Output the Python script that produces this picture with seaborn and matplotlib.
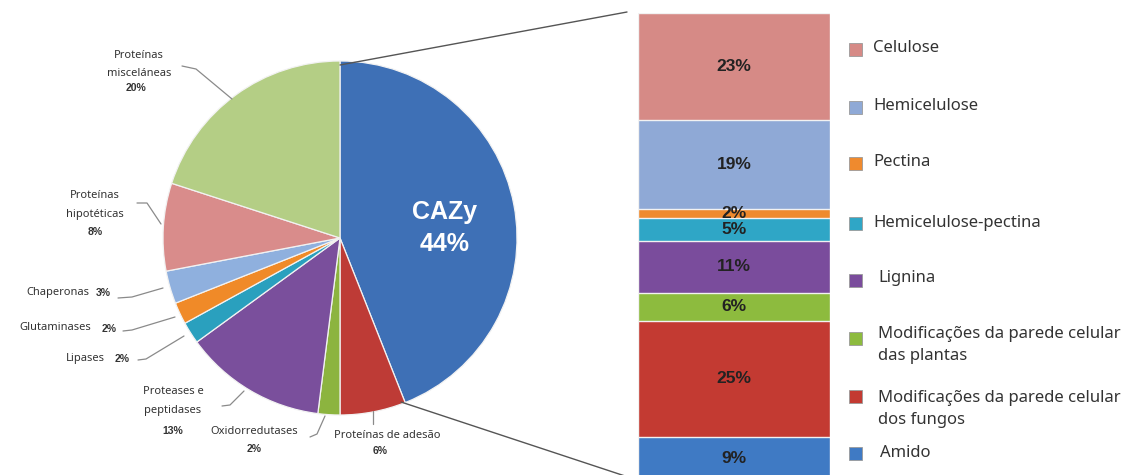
import matplotlib
matplotlib.use("Agg")
import matplotlib.pyplot as plt
import seaborn as sns
from matplotlib.patches import Rectangle

# ---------------- data ----------------
pie_labels = ["CAZy", "Proteínas de adesão", "Oxidorredutases", "Proteases e peptidases",
              "Lipases", "Glutaminases", "Chaperonas", "Proteínas hipotéticas",
              "Proteínas misceláneas"]
pie_values = [44, 6, 2, 13, 2, 2, 3, 8, 20]
pie_colors = ["#3E70B6", "#BE3B36", "#8CB43F", "#7A4F9C", "#2AA0BE",
              "#F08A28", "#8FB0DE", "#D98C8B", "#B4CE85"]

bar_labels = ["Amido", "Modificações da parede celular\ndos fungos",
              "Modificações da parede celular\ndas plantas", "Lignina",
              "Hemicelulose-pectina", "Pectina", "Hemicelulose", "Celulose"]
bar_values = [9, 25, 6, 11, 5, 2, 19, 23]
bar_colors = ["#3F7AC4", "#C33A32", "#8DBB3E", "#7A4C9C",
              "#2FA6C6", "#EF8A2E", "#8FA9D6", "#D68A86"]

sns.set_theme(style="white")
plt.rcParams['font.family'] = ['Noto Sans', 'DejaVu Sans']

W, H = 1131, 475
fig = plt.figure(figsize=(W / 100, H / 100), dpi=100)
fig.patch.set_facecolor("white")

def Y(py):
    return H - py

# ---------------- pie (pixel-coordinate axes) ----------------
ax0 = fig.add_axes([0, 0, 1, 1])
wedges, _ = ax0.pie(pie_values, colors=pie_colors, startangle=90, counterclock=False,
                    center=(340, Y(238)), radius=177,
                    wedgeprops=dict(edgecolor="#f2f2f2", linewidth=0.9))
ax0.set_xlim(0, W)
ax0.set_ylim(0, H)
ax0.set_aspect("auto")
ax0.axis("off")

lc = "#8a8a8a"
fs_lab = 8
fs_pct = 7.5
txtc = "#333333"

def lab(x, y, s, ha="center", bold=False, size=None):
    ax0.text(x, Y(y), s, ha=ha, va="center", color=txtc,
             fontsize=size or (fs_pct if bold else fs_lab),
             fontweight="bold" if bold else "normal",
             family=["Liberation Sans", "DejaVu Sans"] if bold else ["Noto Sans", "DejaVu Sans"])

def leader(pts, color=lc, lw=0.9):
    ax0.plot([p[0] for p in pts], [Y(p[1]) for p in pts], color=color, lw=lw,
             solid_capstyle="round")

# misceláneas
lab(139, 56, "Proteínas")
lab(139, 74, "misceláneas")
lab(136, 88, f"{pie_values[8]}%", bold=True)
leader([(182, 66), (196, 69), (232, 99)])
# hipotéticas
lab(95, 196, "Proteínas")
lab(95, 214, "hipotéticas")
lab(95, 232, f"{pie_values[7]}%", bold=True)
leader([(137, 203), (147, 203), (161, 224)])
# Chaperonas
lab(89, 292, "Chaperonas", ha="right")
lab(96, 293, f"{pie_values[6]}%", ha="left", bold=True)
leader([(118, 298), (132, 297), (163, 288)])
# Glutaminases
lab(91, 328, "Glutaminases", ha="right")
lab(102, 329, f"{pie_values[5]}%", ha="left", bold=True)
leader([(123, 331), (132, 330), (175, 317)])
# Lipases
lab(105, 358, "Lipases", ha="right")
lab(115, 359, f"{pie_values[4]}%", ha="left", bold=True)
leader([(138, 360), (146, 359), (184, 336)])
# Proteases
lab(173, 392, "Proteases e")
lab(173, 410, "peptidases")
lab(173, 431, f"{pie_values[3]}%", bold=True)
leader([(222, 406), (230, 405), (244, 391)])
# Oxidorredutases
lab(254, 432, "Oxidorredutases")
lab(254, 449, f"{pie_values[2]}%", bold=True)
leader([(310, 437), (317, 434), (325, 416)])
# adesão
lab(387, 435, "Proteínas de adesão")
lab(380, 451, f"{pie_values[1]}%", bold=True)
leader([(373, 424), (373, 411)])
# CAZy
ax0.text(445, Y(212), pie_labels[0], ha="center", va="center", color="white",
         fontsize=18, fontweight="bold", family=["Liberation Sans", "DejaVu Sans"])
ax0.text(445, Y(244), f"{pie_values[0]}%", ha="center", va="center", color="white",
         fontsize=18, fontweight="bold", family=["Liberation Sans", "DejaVu Sans"])

# connector lines
leader([(340, 65), (627, 12)], color="#555555", lw=1.0)
leader([(401, 402), (625, 476)], color="#555555", lw=1.0)

# ---------------- stacked bar ----------------
ax1 = fig.add_axes([638 / W, -4 / H, 192 / W, 466 / H])
cum = []
s = 0
for v in bar_values:
    s += v
    cum.append(s)
# overlay cumulative bars from tallest to shortest (seaborn stacked approach)
for i in range(len(bar_values) - 1, -1, -1):
    sns.barplot(x=[0], y=[cum[i]], color=bar_colors[i], saturation=1, width=1,
                edgecolor="#f2f2f2", linewidth=1.0, ax=ax1)
ax1.set_xlim(-0.5, 0.5)
ax1.set_ylim(0, 100)
ax1.axis("off")
for i, v in enumerate(bar_values):
    mid = cum[i] - v / 2
    ax1.text(0, mid, f"{v}%", ha="center", va="center", fontsize=12.5, fontweight="bold",
             color="#222222", family=["Liberation Sans", "DejaVu Sans"])

# ---------------- legend (manual, pixel coords) ----------------
leg = [  # (index, marker_y, text_x, text_y)
    (7, 49, 873, 48),
    (6, 107, 873, 106),
    (5, 163, 873, 162),
    (4, 223, 873, 223),
    (3, 280, 878, 278),
    (2, 338, 878, 345),
    (1, 396, 878, 409),
    (0, 453, 880, 453),
]
for idx, my, tx, ty in leg:
    ax0.add_patch(Rectangle((849, Y(my) - 6.5), 13, 13, facecolor=bar_colors[idx],
                            edgecolor="#9a9a9a", linewidth=0.6))
    ax0.text(tx, Y(ty), bar_labels[idx], ha="left", va="center", fontsize=12,
             color="#333333", linespacing=1.45)

fig.savefig("out.png", dpi=100, facecolor="white")
